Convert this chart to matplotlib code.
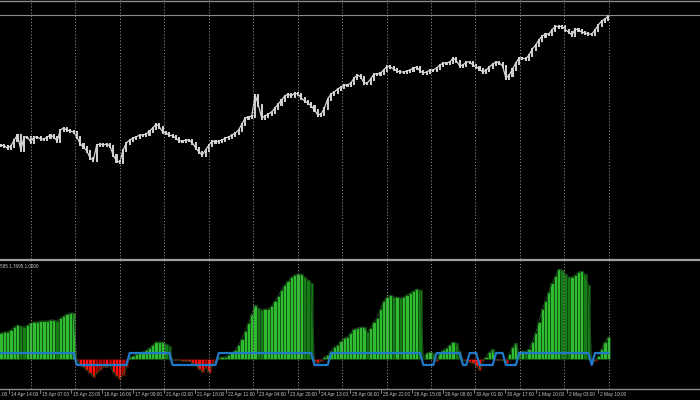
import matplotlib
matplotlib.use("Agg")
import matplotlib.pyplot as plt
import numpy as np
from matplotlib.lines import Line2D

# ---------------- data ----------------
close = [
    113, 112, 110, 112, 118, 123, 108, 121, 121, 116,
    121, 121, 119, 119, 121, 123, 121, 117, 128, 130,
    128, 127, 126, 121, 114, 111, 107, 100, 98, 113,
    114, 113, 114, 112, 103, 97, 96, 108, 115, 118,
    120, 121, 123, 123, 124, 127, 130, 134, 131, 126,
    125, 123, 122, 120, 117, 117, 118, 118, 115, 110,
    106, 103, 108, 113, 117, 116, 117, 118, 120, 121,
    123, 125, 128, 134, 140, 141, 142, 163, 153, 140,
    142, 144, 146, 150, 154, 158, 162, 164, 162, 165,
    164, 160, 157, 155, 152, 148, 143, 144, 150, 159,
    164, 166, 169, 171, 173, 173, 175, 180, 183, 181,
    175, 175, 179, 184, 184, 185, 188, 192, 191, 189,
    187, 186, 186, 187, 188, 190, 191, 187, 185, 186,
    188, 188, 190, 193, 195, 195, 196, 200, 197, 192,
    193, 196, 196, 193, 191, 189, 186, 188, 191, 194,
    196, 195, 192, 180, 183, 189, 195, 200, 200, 199,
    203, 209, 213, 218, 222, 224, 224, 228, 232, 231,
    232, 228, 226, 223, 229, 228, 226, 225, 224, 224,
    228, 233, 237, 239, 242,
]

hist = [
    26, 27, 27, 29, 32, 34, 33, 32, 34, 36,
    37, 37, 38, 38, 38, 39, 39, 38, 41, 43,
    45, 46, 46, -1, -6, -8, -11, -14, -18, -14,
    -11, -8, -8, -6, -13, -17, -20, -16, -8, 2,
    3, 5, 6, 7, 9, 11, 14, 17, 17, 17,
    15, 13, -1, -1, -1, -2, -2, -2, -4, -6,
    -10, -13, -9, -13, -5, -2, 1, 2, 2, 4,
    6, 9, 14, 20, 28, 36, 45, 54, 51, 49,
    50, 50, 53, 58, 63, 69, 74, 78, 82, 84,
    85, 85, 82, 79, 76, -2, -4, -2, 2, 4,
    8, 12, 14, 18, 21, 22, 26, 30, 31, 32,
    32, 27, 31, 37, 41, 50, 58, 62, 64, 62,
    62, 61, 62, 64, 66, 68, 70, 69, 1, 6,
    7, 6, -2, 6, 9, 11, 14, 17, 16, 8,
    -1, -2, -3, -4, -7, -11, -2, 2, 7, 10,
    -1, -1, -1, -4, 5, 12, 16, 6, 8, 7,
    10, 17, 26, 37, 50, 58, 67, 76, 83, 90,
    89, 85, 82, 82, 84, 87, 88, 85, 74, -4,
    -2, 3, 10, 17, 22,
]

signal_state = [
    1, 1, 1, 1, 1, 1, 1, 1, 1, 1,
    1, 1, 1, 1, 1, 1, 1, 1, 1, 1,
    1, 1, 1, -1, -1, -1, -1, -1, -1, -1,
    -1, -1, -1, -1, -1, -1, -1, -1, -1, 1,
    1, 1, 1, 1, 1, 1, 1, 1, 1, 1,
    1, 1, -1, -1, -1, -1, -1, -1, -1, -1,
    -1, -1, -1, -1, -1, -1, 1, 1, 1, 1,
    1, 1, 1, 1, 1, 1, 1, 1, 1, 1,
    1, 1, 1, 1, 1, 1, 1, 1, 1, 1,
    1, 1, 1, 1, 1, -1, -1, -1, -1, -1,
    1, 1, 1, 1, 1, 1, 1, 1, 1, 1,
    1, 1, 1, 1, 1, 1, 1, 1, 1, 1,
    1, 1, 1, 1, 1, 1, 1, 1, -1, -1,
    -1, -1, 1, 1, 1, 1, 1, 1, 1, 1,
    -1, -1, 1, 1, 1, -1, -1, -1, -1, -1,
    1, 1, 1, -1, -1, -1, -1, 1, 1, 1,
    1, 1, 1, 1, 1, 1, 1, 1, 1, 1,
    1, 1, 1, 1, 1, 1, 1, 1, 1, -1,
    1, 1, 1, 1, 1,
]
signal_level = 6
price_line = 243

time_labels = ["13 Apr 21:00", "14 Apr 14:00", "15 Apr 07:00", "15 Apr 23:00",
               "16 Apr 16:00", "17 Apr 09:00", "21 Apr 02:00", "21 Apr 18:00",
               "22 Apr 11:00", "23 Apr 04:00", "23 Apr 20:00", "24 Apr 13:00",
               "25 Apr 06:00", "25 Apr 22:00", "28 Apr 15:00", "29 Apr 08:00",
               "30 Apr 01:00", "30 Apr 17:00", "1 May 10:00", "2 May 03:00",
               "2 May 19:00"]
info_text = "595 1.7695 1.0000"

# ---------------- layout ----------------
W, H = 700, 400
PX = 3.3                      # pixels per bar
N = len(close)
x = np.arange(N)
xmin = -1 / PX
xmax = (W - 1) / PX

fig = plt.figure(figsize=(7, 4), dpi=100, facecolor="black")
ax1 = fig.add_axes([0, 141 / H, 1, 259 / H])
ax2 = fig.add_axes([0, 11 / H, 1, 128 / H])
for ax in (ax1, ax2):
    ax.set_facecolor("black")
    ax.set_xlim(xmin, xmax)
    ax.axis("off")
ax1.set_ylim(-1, 258)
ax2.set_ylim(-30, 98)

# grid (dotted vertical)
grid_x = (31 + 44.45 * np.arange(14) - 1) / PX
for ax in (ax1, ax2):
    for gx in grid_x:
        ax.axvline(gx, color="#8a8a8a", lw=0.7, ls=(0, (1.2, 2.0)), zorder=6)

# price bars
c = np.array(close, float)
prev = np.r_[c[0], c[:-1]]
lo = np.minimum(prev, c)
hi = np.maximum(prev, c)
ax1.bar(x, hi - lo + 3, bottom=lo - 1.5, width=0.65, color="#cdcdcd",
        linewidth=0, zorder=3)
ax1.plot(x, c, color="#d8d8d8", lw=0.9, zorder=3)
ax1.axhline(price_line, color="#8c8c8c", lw=0.8, zorder=2)

# histogram
h = np.array(hist, float)
dh = np.diff(np.r_[h[0], h])
fc, ec = [], []
for v, d in zip(h, dh):
    if v >= 0:
        fc.append("#30bc30" if d >= 0 else "#167c16")
        ec.append("#0c3d0c")
    else:
        fc.append("#ff1010" if d <= 0 else "#b00000")
        ec.append("#400000")
ax2.bar(x, h, width=1.0, color=fc, edgecolor=ec, linewidth=0.4, zorder=2)
ax2.plot(x, h, color="#1f4a1f", lw=0.7, zorder=3)
ax2.plot(x, np.array(signal_state) * signal_level, color="#1f78c8", lw=1.6, zorder=4)

# frame lines
def hline_px(ypx, color, lw):
    fig.add_artist(Line2D([0, 1], [1 - ypx / H] * 2, transform=fig.transFigure,
                          color=color, lw=lw))

hline_px(0.6, "#8c8c8c", 1.0)
hline_px(260, "#a0a0a0", 1.6)
hline_px(389, "#8c8c8c", 1.0)

# info text in indicator window
fig.text(0 / W, 1 - 266 / H, info_text, color="#c8c8c8", fontsize=3.3,
         family="Liberation Sans", va="center", ha="left")

# time labels with tick marks
for k, lab in enumerate(time_labels):
    lx = -20 + 31 * k
    fig.add_artist(Line2D([(lx - 2) / W] * 2, [1 - 389 / H, 1 - 393 / H],
                          transform=fig.transFigure, color="#8c8c8c", lw=0.6))
    fig.text(lx / W, 1 - 394.5 / H, lab, color="#c8c8c8", fontsize=3.4,
             family="Liberation Sans", va="center", ha="left")

fig.savefig("out.png", dpi=100, facecolor="black")
